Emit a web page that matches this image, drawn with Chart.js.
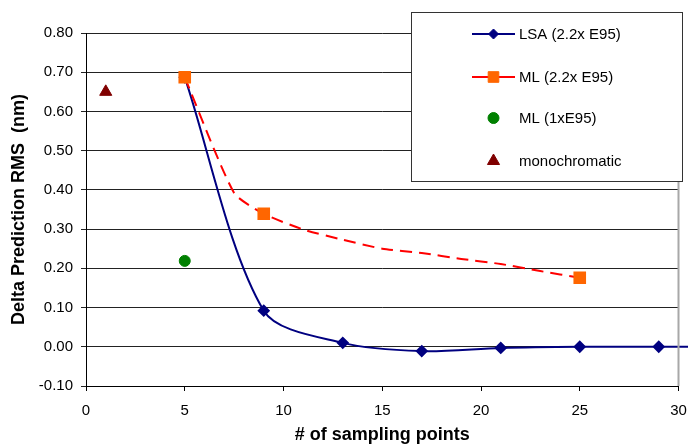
<!DOCTYPE html>
<html>
<head>
<meta charset="utf-8">
<script src="https://cdn.jsdelivr.net/npm/chart.js@4.4.1/dist/chart.umd.min.js"></script>
<style>
  html, body { margin: 0; padding: 0; background: #fff; }
  #wrap { width: 688px; height: 446px; }
</style>
</head>
<body>
<div id="wrap"><canvas id="chart"></canvas></div>
<script>
// LSA (2.2x E95) - last point lies past the axis end, line runs off the plot
const lsaX = [5, 9, 13, 17, 21, 25, 29, 33];
const lsaY = [0.687, 0.092, 0.010, -0.011, -0.003, 0.000, 0.000, 0.000];

// ML (2.2x E95) - markers only on 5, 9 and 25
const mlX = [5, 7.5, 9, 11, 13, 15, 17, 19, 21, 23, 25];
const mlY = [0.687, 0.392, 0.339, 0.299, 0.273, 0.250, 0.239, 0.224, 0.211, 0.193, 0.176];
const mlMarked = [5, 9, 25];

// single points
const ml1X = [5];
const ml1Y = [0.219];
const monoX = [1];
const monoY = [0.65];

const labels = ["LSA (2.2x E95)", "ML (2.2x E95)", "ML (1xE95)", "monochromatic"];

const xTitle = "# of sampling points";
const yTitle = "Delta Prediction RMS  (nm)";

const FONT = "'Liberation Sans', Arial, sans-serif";

function pts(xs, ys) {
  return xs.map((x, i) => ({ x: x, y: ys[i] }));
}

// Draw a marker shape for the legend
function marker(ctx, style, x, y, r, fill, stroke) {
  ctx.save();
  ctx.fillStyle = fill;
  ctx.strokeStyle = stroke;
  ctx.lineWidth = 1;
  ctx.beginPath();
  if (style === "rectRot") {
    ctx.moveTo(x - r, y);
    ctx.lineTo(x, y - r);
    ctx.lineTo(x + r, y);
    ctx.lineTo(x, y + r);
  } else if (style === "rect") {
    const s = r * Math.SQRT1_2;
    ctx.rect(x - s, y - s, 2 * s, 2 * s);
  } else if (style === "triangle") {
    ctx.moveTo(x, y - r);
    ctx.lineTo(x + r * 0.866, y + r * 0.5);
    ctx.lineTo(x - r * 0.866, y + r * 0.5);
  } else {
    ctx.arc(x, y, r, 0, Math.PI * 2);
  }
  ctx.closePath();
  ctx.fill();
  ctx.stroke();
  ctx.restore();
}

const framePlugin = {
  id: "frame",
  afterDraw(chart) {
    const { ctx, chartArea } = chart;
    // grey right edge of the plot area
    ctx.save();
    ctx.strokeStyle = "#a8a8a8";
    ctx.lineWidth = 2;
    ctx.beginPath();
    ctx.moveTo(chartArea.right, chartArea.top);
    ctx.lineTo(chartArea.right, chartArea.bottom);
    ctx.stroke();

    // boxed legend over the top right corner
    const bx = 411, by = 12, bw = 271, bh = 169;
    ctx.fillStyle = "#ffffff";
    ctx.fillRect(bx, by, bw, bh);
    ctx.strokeStyle = "#333333";
    ctx.lineWidth = 1;
    ctx.strokeRect(bx + 0.5, by + 0.5, bw, bh);

    const rows = [34, 77, 118, 161];
    ctx.font = "15px " + FONT;
    ctx.textBaseline = "middle";
    ctx.textAlign = "left";
    chart.data.datasets.forEach((ds, i) => {
      const y = rows[i];
      if (ds.showLine) {
        ctx.strokeStyle = ds.borderColor;
        ctx.lineWidth = 2;
        ctx.beginPath();
        ctx.moveTo(472, y);
        ctx.lineTo(515, y);
        ctx.stroke();
      }
      marker(ctx, ds.legendStyle, 493.5, y, ds.legendRadius, ds.pointBackgroundColor, ds.pointBorderColor);
      ctx.fillStyle = "#000000";
      ctx.fillText(ds.label, 519, y + 1);
    });
    ctx.restore();
  },
};

new Chart(document.getElementById("chart"), {
  type: "scatter",
  data: {
    datasets: [
      {
        label: labels[0],
        data: pts(lsaX, lsaY),
        showLine: true,
        borderColor: "#000080",
        borderWidth: 2,
        tension: 0.3,
        pointStyle: "rectRot",
        pointRadius: 5,
        pointBackgroundColor: "#000080",
        pointBorderColor: "#000080",
        legendStyle: "rectRot",
        legendRadius: 5,
        order: 1,
        clip: { left: 0, top: 0, right: 10, bottom: 0 },
      },
      {
        label: labels[1],
        data: pts(mlX, mlY),
        showLine: true,
        borderColor: "#ff0000",
        borderWidth: 2,
        borderDash: [12, 7],
        tension: 0.2,
        pointStyle: "rect",
        pointRadius: mlX.map((x) => (mlMarked.includes(x) ? 7.5 : 0)),
        pointBackgroundColor: "#ff6600",
        pointBorderColor: "#ff6600",
        legendStyle: "rect",
        legendRadius: 7.5,
        order: 0,
      },
      {
        label: labels[2],
        data: pts(ml1X, ml1Y),
        showLine: false,
        pointStyle: "circle",
        pointRadius: 5.5,
        pointBackgroundColor: "#008000",
        pointBorderColor: "#008000",
        legendStyle: "circle",
        legendRadius: 5.5,
        order: 0,
      },
      {
        label: labels[3],
        data: pts(monoX, monoY),
        showLine: false,
        pointStyle: "triangle",
        pointRadius: 7,
        pointBackgroundColor: "#800000",
        pointBorderColor: "#800000",
        legendStyle: "triangle",
        legendRadius: 7,
        order: 0,
      },
    ],
  },
  options: {
    responsive: true,
    maintainAspectRatio: false,
    animation: false,
    layout: { padding: { top: 33, right: 7, left: 0, bottom: 0 } },
    plugins: {
      legend: { display: false },
      tooltip: { enabled: false },
    },
    scales: {
      x: {
        type: "linear",
        min: 0,
        max: 30,
        ticks: { stepSize: 5, color: "#000", font: { family: FONT, size: 15 }, padding: 11, maxRotation: 0 },
        grid: { drawOnChartArea: false, drawTicks: true, tickLength: 5, color: "#000" },
        border: { color: "#000", width: 1 },
        title: { display: true, text: xTitle, color: "#000", font: { family: FONT, size: 18, weight: "bold" }, padding: 0 },
        afterFit(scale) {
          scale.height = 60;
          scale.paddingLeft = 0;
          scale.paddingRight = 0;
        },
      },
      y: {
        type: "linear",
        min: -0.1,
        max: 0.8,
        ticks: {
          stepSize: 0.1,
          color: "#000",
          font: { family: FONT, size: 15 },
          padding: 8,
          callback: (v) => v.toFixed(2),
        },
        grid: { color: "#222", tickLength: 5 },
        border: { color: "#000", width: 1 },
        title: { display: true, text: yTitle, color: "#000", font: { family: FONT, size: 18, weight: "bold" }, padding: { top: 8, bottom: 0 } },
        afterFit(scale) {
          scale.width = 86;
          scale.paddingTop = 0;
          scale.paddingBottom = 0;
        },
      },
    },
  },
  plugins: [framePlugin],
});
</script>
</body>
</html>
